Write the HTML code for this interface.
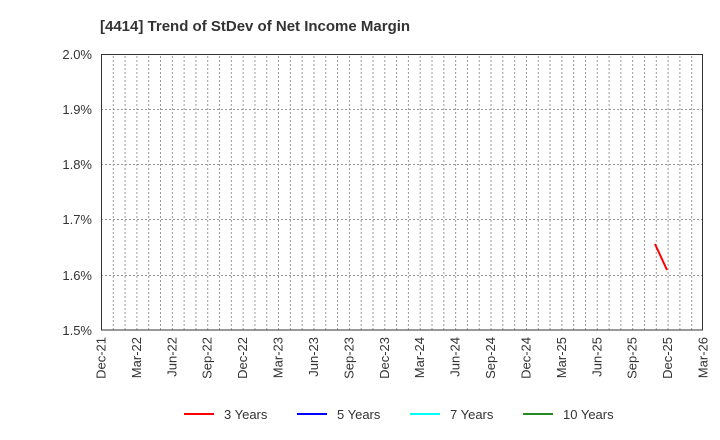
<!DOCTYPE html>
<html><head><meta charset="utf-8"><style>body{margin:0;background:#fff}svg{display:block}text{font-family:"Liberation Sans",Arial,sans-serif;fill:#333}</style></head>
<body>
<svg width="720" height="440" xmlns="http://www.w3.org/2000/svg">
<defs>
<pattern id="vg" x="101" y="0" width="11.804" height="440" patternUnits="userSpaceOnUse">
<line x1="0.5" y1="0" x2="0.5" y2="440" stroke="#999" stroke-width="1" stroke-dasharray="2,2"/>
</pattern>
</defs>
<text x="100" y="31" font-size="15" font-weight="bold" fill="#333">[4414]  Trend of StDev of Net Income Margin</text>
<rect x="112" y="54" width="590" height="276" fill="url(#vg)"/>
<g stroke="#999" stroke-dasharray="2,2" stroke-width="1">
<line x1="101" y1="54.5" x2="703" y2="54.5"/>
<line x1="101" y1="109.5" x2="703" y2="109.5"/>
<line x1="101" y1="164.5" x2="703" y2="164.5"/>
<line x1="101" y1="219.5" x2="703" y2="219.5"/>
<line x1="101" y1="275.5" x2="703" y2="275.5"/>
</g>
<rect x="101.5" y="54.5" width="601" height="275.5" fill="none" stroke="#333" stroke-width="1"/>
<g font-size="13" text-anchor="end">
<text x="92" y="59">2.0%</text>
<text x="92" y="114">1.9%</text>
<text x="92" y="169">1.8%</text>
<text x="92" y="224">1.7%</text>
<text x="92" y="280">1.6%</text>
<text x="92" y="335">1.5%</text>
</g>
<g font-size="13" text-anchor="end">
<text transform="translate(105.5,337) rotate(-90)">Dec-21</text>
<text transform="translate(140.9,337) rotate(-90)">Mar-22</text>
<text transform="translate(176.3,337) rotate(-90)">Jun-22</text>
<text transform="translate(211.7,337) rotate(-90)">Sep-22</text>
<text transform="translate(247.1,337) rotate(-90)">Dec-22</text>
<text transform="translate(282.6,337) rotate(-90)">Mar-23</text>
<text transform="translate(318.0,337) rotate(-90)">Jun-23</text>
<text transform="translate(353.4,337) rotate(-90)">Sep-23</text>
<text transform="translate(388.8,337) rotate(-90)">Dec-23</text>
<text transform="translate(424.2,337) rotate(-90)">Mar-24</text>
<text transform="translate(459.6,337) rotate(-90)">Jun-24</text>
<text transform="translate(495.0,337) rotate(-90)">Sep-24</text>
<text transform="translate(530.4,337) rotate(-90)">Dec-24</text>
<text transform="translate(565.9,337) rotate(-90)">Mar-25</text>
<text transform="translate(601.3,337) rotate(-90)">Jun-25</text>
<text transform="translate(636.7,337) rotate(-90)">Sep-25</text>
<text transform="translate(672.1,337) rotate(-90)">Dec-25</text>
<text transform="translate(707.5,337) rotate(-90)">Mar-26</text>
</g>
<polyline points="655,244 667,270" fill="none" stroke="#f00" stroke-width="2"/>
<g stroke-width="2">
<line x1="184" y1="414" x2="214" y2="414" stroke="#f00"/>
<line x1="297" y1="414" x2="327" y2="414" stroke="#00f"/>
<line x1="410" y1="414" x2="440" y2="414" stroke="#0ff"/>
<line x1="523" y1="414" x2="553" y2="414" stroke="#228b22"/>
</g>
<g font-size="13">
<text x="224" y="419">3 Years</text>
<text x="337" y="419">5 Years</text>
<text x="450" y="419">7 Years</text>
<text x="563" y="419">10 Years</text>
</g>
</svg>
</body></html>
